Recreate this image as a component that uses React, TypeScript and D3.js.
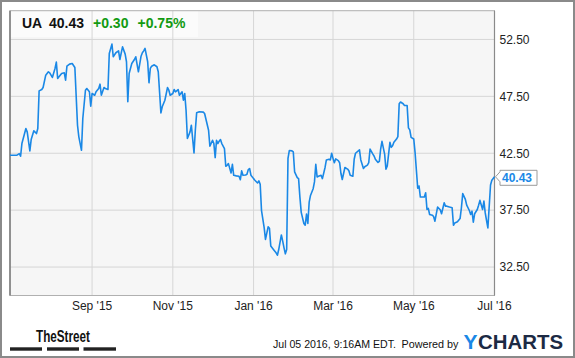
import React from "react";
import * as d3 from "d3";

const startDate = "2015-07-01";
const endDate = "2016-07-01";
const dayOffsets = [
  0, 5, 7, 8, 9, 12, 13, 15, 16, 18, 20, 21, 22, 24, 25, 27, 29, 30, 32, 34, 35, 36, 37, 39, 41, 42, 43, 45, 47, 49,
  51, 52, 54, 55, 57, 58, 60, 61, 62, 64, 65, 67, 68, 69, 71, 72, 74, 75, 77, 78, 80, 82, 83, 85, 87, 88, 89, 90, 92, 94,
  95, 97, 99, 100, 101, 102, 104, 105, 106, 107, 109, 111, 112, 114, 115, 117, 119, 120, 121, 123, 124, 125, 127, 128, 130, 131, 132, 133, 134, 136,
  137, 139, 140, 141, 143, 146, 147, 150, 151, 153, 154, 155, 156, 157, 158, 159, 160, 162, 163, 164, 165, 167, 168, 169, 171, 173, 174, 175, 176, 178,
  179, 180, 181, 182, 184, 185, 187, 188, 189, 190, 192, 193, 195, 196, 197, 199, 201, 202, 203, 205, 206, 207, 208, 209, 210, 211, 213, 214, 215, 217,
  218, 219, 220, 222, 223, 224, 225, 226, 227, 229, 230, 231, 232, 233, 235, 236, 238, 239, 241, 242, 243, 244, 245, 246, 248, 249, 250, 251, 253, 255,
  256, 257, 259, 260, 261, 264, 265, 267, 268, 270, 271, 272, 274, 275, 276, 278, 279, 280, 281, 283, 284, 285, 287, 288, 289, 290, 292, 293, 294, 295,
  297, 298, 300, 301, 302, 303, 305, 306, 308, 309, 310, 312, 313, 314, 315, 316, 317, 319, 320, 321, 323, 325, 326, 328, 329, 330, 332, 334, 335, 336,
  338, 340, 341, 342, 344, 345, 347, 348, 349, 350, 351, 353, 354, 355, 357, 358, 359, 360, 361, 363, 364, 366,
];
const closes = [
  42.32, 42.32, 42.47, 42.24, 43.35, 44.67, 44.38, 42.71, 43.7, 44.47, 44.23, 44.67, 47.98, 48.1, 48.28, 49.36, 49.66, 49.57, 49.16, 49.95, 50.51, 49.07, 49.22, 49.51, 49.57, 48.92, 50.15, 50.33, 50.39, 50.04,
  44.96, 43.94, 42.76, 45.55, 48.04, 48.19, 47.9, 46.64, 47.75, 47.6, 47.9, 48.19, 48.57, 47.6, 48.28, 48.19, 48.1, 51.27, 52.09, 50.98, 51.33, 51.5, 50.74, 51.85, 51.21, 50.54, 47.02, 49.51, 50.39, 50.74,
  50.98, 49.66, 51.03, 51.33, 51.5, 51.71, 50.54, 48.69, 49.95, 50.15, 50.27, 50.1, 49.66, 46.05, 46.58, 47.16, 48.28, 48.04, 47.6, 47.75, 48.1, 47.9, 48.1, 47.6, 47.9, 47.16, 47.75, 46.28, 43.79, 44.38,
  44.96, 42.53, 44.52, 46.05, 46.14, 46.11, 45.99, 44.52, 43.12, 43.64, 43.35, 42.12, 43.64, 43.35, 43.56, 43.7, 43.35, 42.91, 41.36, 41.44, 41.59, 40.77, 41.53, 40.56, 40.51, 40.48, 40.18, 40.95, 40.56, 40.59,
  40.65, 41.06, 41.16, 40.57, 40.27, 40.13, 39.89, 40.07, 39.77, 37.46, 35.97, 34.93, 36.03, 35.91, 34.34, 34.04, 33.75, 33.54, 34.04, 35.32, 34.78, 34.19, 33.66, 34.04, 42.05, 42.74, 42.71, 42.62, 40.87, 40.36,
  40.27, 38.64, 37.31, 36.33, 36.18, 37.16, 36.33, 38.2, 38.79, 39.38, 39.98, 41.52, 40.42, 40.48, 40.57, 40.27, 41.25, 41.91, 41.97, 41.91, 42.5, 42.05, 41.67, 42.0, 41.85, 41.67, 40.72, 40.19, 41.25, 41.11,
  40.96, 40.57, 40.48, 41.97, 42.5, 42.8, 41.91, 41.16, 41.31, 41.46, 41.67, 42.86, 42.44, 42.26, 41.98, 41.69, 41.78, 42.87, 43.55, 42.43, 41.1, 41.39, 43.46, 43.02, 43.16, 43.46, 43.75, 43.96, 46.85, 47.0,
  46.85, 46.7, 46.7, 44.73, 44.55, 43.9, 43.75, 42.57, 39.42, 39.62, 38.65, 38.65, 38.65, 39.03, 37.56, 37.65, 37.12, 37.06, 36.94, 36.53, 37.77, 37.53, 37.18, 38.15, 37.85, 37.85, 37.77, 37.71, 36.17, 36.38,
  36.47, 36.76, 37.71, 38.95, 38.44, 37.94, 37.47, 37.12, 37.41, 36.44, 37.18, 37.56, 37.94, 38.36, 37.56, 38.3, 37.26, 36.59, 35.94, 39.71, 40.13, 40.43,
];
const yTicks = [52.5, 47.5, 42.5, 37.5, 32.5];
const xTickDates = ["2015-09-01", "2015-11-01", "2016-01-01", "2016-03-01", "2016-05-01", "2016-07-01"];
const xTickLabels = ["Sep '15", "Nov '15", "Jan '16", "Mar '16", "May '16", "Jul '16"];
const ticker = "UA";
const lastPrice = "40.43";
const change = "+0.30";
const changePct = "+0.75%";
const timestamp = "Jul 05 2016, 9:16AM EDT.";

const FONT = "'Liberation Sans', Arial, sans-serif";
const BLUE = "#1a88e6";
const GREEN = "#129a12";

const parse = d3.utcParse("%Y-%m-%d");

export default function App() {
  const left = 10, right = 494.5, top = 10.7, bottom = 295.5;
  const x = d3.scaleUtc().domain([parse(startDate)!, parse(endDate)!]).range([left, right]);
  const y = d3.scaleLinear().domain([30, 55]).range([bottom, 11]);
  const start = parse(startDate)!;
  const pts = dayOffsets.map((d, i) => ({ date: d3.utcDay.offset(start, d), v: closes[i] }));
  const line = d3.line<{ date: Date; v: number }>().x((d) => x(d.date)).y((d) => y(d.v));
  const lastV = closes[closes.length - 1];
  const ly = y(lastV);
  const bx = 500, bw = 37, bh = 15;
  const by = ly - 6.5;
  const boxPath = `M${bx},${by} H${bx + bw} V${by + bh} H${bx} V${ly + 5} L${right + 1},${ly} L${bx},${ly - 5} Z`;

  return (
    <svg width={575} height={358} style={{ position: "absolute", left: 0, top: 0, display: "block" }} fontFamily={FONT}>
      <rect x={0} y={0} width={575} height={358} fill="#fff" />
      <rect x={1} y={1} width={573} height={356} fill="none" stroke="#8a8a8a" strokeWidth={2} />
      <rect x={left} y={top} width={right - left} height={bottom - top} fill="#f6f6f6" />
      <rect x={left} y={top} width={198 - left} height={37 - top} fill="#fbfbfb" />
      {yTicks.map((t) => (
        <line key={"gy" + t} x1={left} x2={right} y1={y(t)} y2={y(t)} stroke="#d6d6d6" strokeWidth={1} />
      ))}
      {xTickDates.map((t) => (
        <line key={"gx" + t} x1={x(parse(t)!)} x2={x(parse(t)!)} y1={top} y2={bottom} stroke="#d6d6d6" strokeWidth={1} />
      ))}
      <rect x={left} y={top} width={right - left} height={bottom - top} fill="none" stroke="#b0b0b0" strokeWidth={1} />
      <line x1={left} x2={left} y1={top} y2={bottom} stroke="#7a7a7a" strokeWidth={1.5} />
      <line x1={right} x2={right} y1={top} y2={bottom} stroke="#8a8a8a" strokeWidth={1.2} />
      <path d={line(pts) || ""} fill="none" stroke={BLUE} strokeWidth={1.6} strokeLinejoin="round" />
      {yTicks.map((t) => (
        <text key={"ty" + t} x={499.5} y={y(t) + 4.3} fontSize={12} fill="#222">
          {t.toFixed(2)}
        </text>
      ))}
      {xTickDates.map((t, i) => (
        <text key={"tx" + t} x={x(parse(t)!)} y={310} fontSize={12} fill="#222" textAnchor="middle">
          {xTickLabels[i]}
        </text>
      ))}
      <path d={boxPath} fill="#fff" stroke="#9a9a9a" strokeWidth={1} />
      <text x={502} y={ly + 4.8} fontSize={12} fontWeight="bold" fill={BLUE}>
        {lastPrice}
      </text>
      <text x={22} y={28.3} fontSize={14} fontWeight="bold" fill="#111">{ticker}</text>
      <text x={49} y={28.3} fontSize={14} fontWeight="bold" fill="#111">{lastPrice}</text>
      <text x={93} y={28.3} fontSize={14} fontWeight="bold" fill={GREEN}>{change}</text>
      <text x={137.5} y={28.3} fontSize={14} fontWeight="bold" fill={GREEN}>{changePct}</text>
      <text x={36} y={341.7} fontSize={17} fontWeight="bold" fill="#111" textLength={54} lengthAdjust="spacingAndGlyphs">TheStreet</text>
      <rect x={10} y={347.3} width={32} height={3.4} fill="#222" />
      <rect x={47} y={347.3} width={32} height={3.4} fill="#222" />
      <rect x={83.5} y={347.3} width={32.5} height={3.4} fill="#222" />
      <text x={273} y={348} fontSize={11.5} fill="#111" textLength={123} lengthAdjust="spacingAndGlyphs">{timestamp}</text>
      <text x={401.5} y={348} fontSize={11.5} fill="#111" textLength={57} lengthAdjust="spacingAndGlyphs">Powered by</text>
      <text x={463.5} y={349.3} fontSize={21} fontWeight="bold" fill="#1a88e6">Y</text>
      <text x={478} y={349.3} fontSize={21} fontWeight="bold" fill="#1c2a44" textLength={85} lengthAdjust="spacingAndGlyphs">CHARTS</text>
    </svg>
  );
}
